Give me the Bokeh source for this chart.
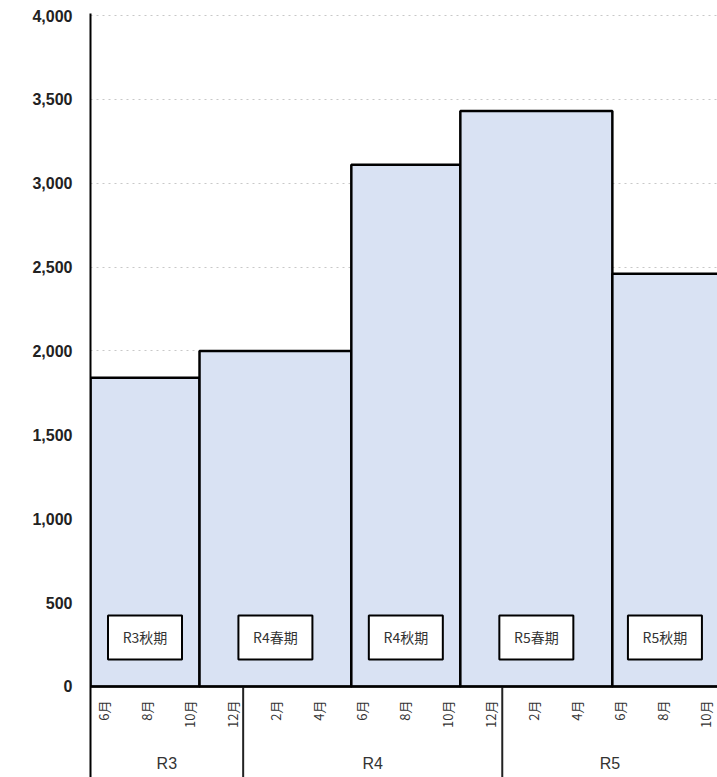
from bokeh.plotting import figure
from bokeh.models import FixedTicker, NumeralTickFormatter, Span, Range1d
from bokeh.core.properties import value
from bokeh.embed import file_html
from bokeh.resources import INLINE
import math

# ---- data ----
periods = ["R3秋期", "R4春期", "R4秋期", "R5春期", "R5秋期"]
counts = [1840, 2000, 3110, 3430, 2460]
# period edges on a month axis (6 = R3 June)
period_edges = [5.4, 10.47, 17.53, 22.6, 29.67, 34.9]

month_pos = [6, 8, 10, 12, 14, 16, 18, 20, 22, 24, 26, 28, 30, 32, 34]
month_labels = ["6月", "8月", "10月", "12月", "2月", "4月", "6月", "8月",
                "10月", "12月", "2月", "4月", "6月", "8月", "10月"]

years = ["R3", "R4", "R5"]
year_edges = [5.4, 12.5, 24.55, 34.56]

y_ticks = [0, 500, 1000, 1500, 2000, 2500, 3000, 3500, 4000]

# ---- figure ----
p = figure(width=717, height=777, output_backend="svg", toolbar_location=None,
           x_axis_location=None,
           x_range=Range1d(year_edges[0], year_edges[-1]),
           y_range=Range1d(-543, 4012),
           min_border_left=90, min_border_right=0, min_border_top=13,
           min_border_bottom=0)
p.outline_line_color = None
p.background_fill_color = "white"
p.border_fill_color = "white"

# y axis
p.yaxis.ticker = FixedTicker(ticks=y_ticks)
p.yaxis.formatter = NumeralTickFormatter(format="0,0")
p.yaxis.major_tick_line_color = None
p.yaxis.minor_tick_line_color = None
p.yaxis.axis_line_color = "black"
p.yaxis.axis_line_width = 2
p.yaxis.major_label_standoff = 12
p.yaxis.major_label_text_font = "Liberation Sans"
p.yaxis.major_label_text_font_style = "bold"
p.yaxis.major_label_text_font_size = "16px"
p.yaxis.major_label_text_color = "#222222"

# grid
p.ygrid.ticker = FixedTicker(ticks=y_ticks)
p.ygrid.grid_line_color = "#c8c8c8"
p.ygrid.grid_line_dash = "dotted"
p.ygrid.grid_line_width = 1
p.xgrid.visible = False

# bars
lefts = period_edges[:-1]
rights = period_edges[1:]
p.quad(left=lefts, right=rights, bottom=[0] * len(counts), top=counts,
       fill_color="#D9E2F3", line_color="black", line_width=2.5)

# x axis line
p.add_layout(Span(location=0, dimension="width", line_color="black", line_width=2))

# period label boxes
centers = [(a + b) / 2 for a, b in zip(lefts, rights)]
centers[-1] = (lefts[-1] + year_edges[-1]) / 2
label_y = 292
p.rect(x=centers, y=[label_y] * len(centers), width=74, height=44,
       width_units="screen", height_units="screen",
       fill_color="white", line_color="black", line_width=2)
p.text(x=centers, y=[label_y] * len(centers), text=periods,
       text_font=value("Noto Sans CJK JP"), text_font_size="14px",
       text_color="#333333", text_align="center", text_baseline="middle")

# month labels (rotated)
p.text(x=month_pos, y=[-84] * len(month_pos), text=month_labels,
       angle=math.pi / 2,
       text_font=value("Noto Sans CJK JP"), text_font_size="13px",
       text_color="#333333", text_align="right", text_baseline="middle")

# year separators
seps = year_edges[1:-1]
p.segment(x0=seps, y0=[0] * len(seps), x1=seps, y1=[-700] * len(seps),
          line_color="#222222", line_width=2)

# year labels
year_centers = [(a + b) / 2 for a, b in zip(year_edges[:-1], year_edges[1:])]
p.text(x=year_centers, y=[-460] * len(years), text=years,
       text_font=value("Liberation Sans"), text_font_size="16px",
       text_color="#333333", text_align="center", text_baseline="middle")

open("out.html", "w").write(file_html(p, INLINE))
